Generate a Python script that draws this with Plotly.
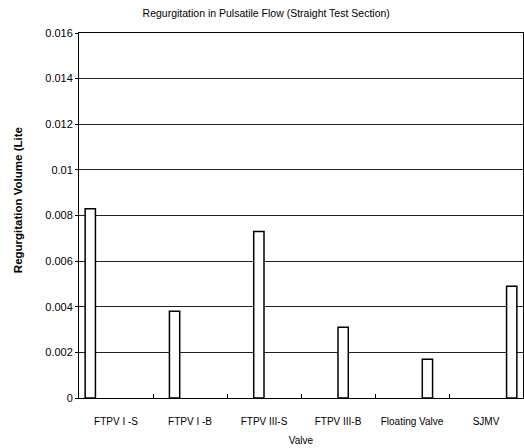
import plotly.graph_objects as go

categories = ["FTPV I -S", "FTPV I -B", "FTPV III-S", "FTPV III-B", "Floating Valve", "SJMV"]
values = [0.0083, 0.0038, 0.0073, 0.0031, 0.0017, 0.0049]
y_ticks = [0, 0.002, 0.004, 0.006, 0.008, 0.01, 0.012, 0.014, 0.016]
y_tick_labels = ["0", "0.002", "0.004", "0.006", "0.008", "0.01", "0.012", "0.014", "0.016"]

FONT = "Liberation Sans, Arial, sans-serif"

fig = go.Figure()
for i, cat in enumerate(categories):
    ys = [values[i] if j == i else None for j in range(len(categories))]
    fig.add_trace(go.Bar(
        x=categories, y=ys, name=cat,
        marker=dict(color="white", line=dict(color="black", width=1.5)),
        showlegend=False,
    ))

fig.update_layout(
    width=524, height=448,
    margin=dict(l=79, r=1, t=33, b=50, autoexpand=False),
    paper_bgcolor="white", plot_bgcolor="white",
    barmode="group", bargap=0.166, bargroupgap=0,
    font=dict(family=FONT, size=10, color="black"),
    title=dict(text="Regurgitation in Pulsatile Flow (Straight Test Section)",
               x=0.508, xref="container", y=0.971, yref="container",
               xanchor="center", yanchor="middle",
               font=dict(family=FONT, size=10.5, color="black")),
    xaxis=dict(
        showline=True, linecolor="black", linewidth=1, mirror=True,
        ticks="inside", ticklen=4, tickcolor="black", tickson="boundaries",
        tickfont=dict(family=FONT, size=10),
        ticklabelstandoff=14,
        title=dict(text="Valve", font=dict(family=FONT, size=10), standoff=10),
        showgrid=False, automargin=False,
    ),
    yaxis=dict(
        range=[0, 0.016], tickvals=y_ticks, ticktext=y_tick_labels,
        showline=True, linecolor="black", linewidth=1, mirror=True,
        showgrid=True, gridcolor="#222222", gridwidth=1,
        ticks="outside", ticklen=3, tickcolor="black",
        tickfont=dict(family=FONT, size=11),
        zeroline=False, automargin=False,
    ),
    annotations=[dict(
        text="<b>Regurgitation Volume (Lite</b>", textangle=-90,
        xref="paper", x=0, xshift=-61, xanchor="center",
        yref="paper", y=0.542, yanchor="middle",
        showarrow=False, font=dict(family=FONT, size=11.5, color="black"),
    )],
)

fig.write_html("out.html", config={"displayModeBar": False},
               post_script="document.body.style.margin='0';document.body.style.padding='0';")
